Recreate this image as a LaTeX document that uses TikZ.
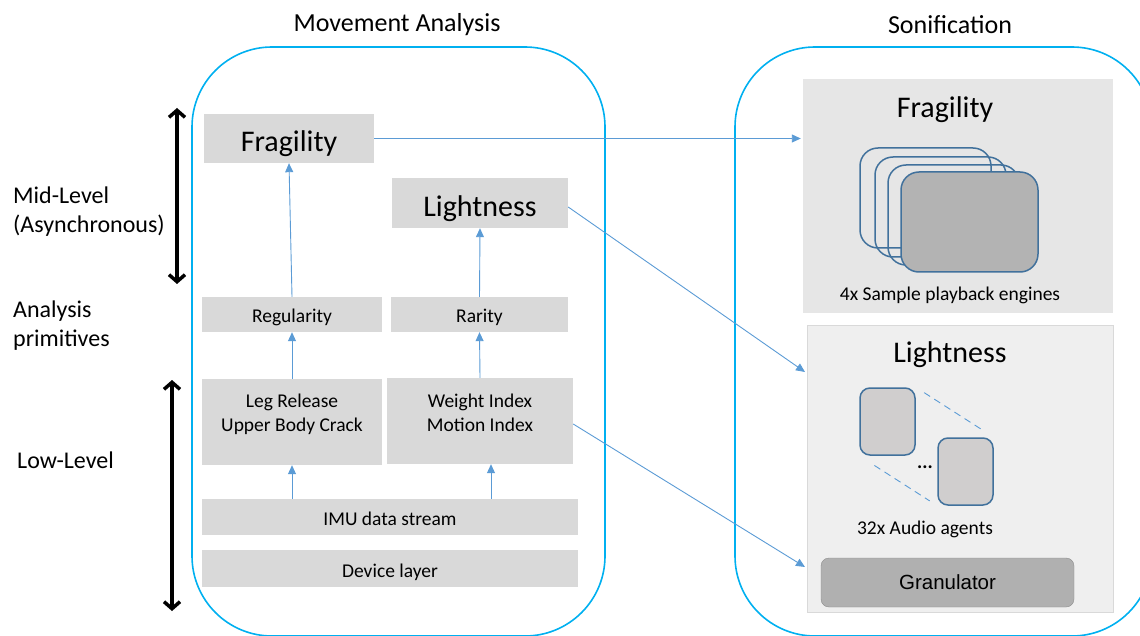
\documentclass[tikz,border=0pt]{standalone}
\usepackage{fontspec}
\setmainfont{Carlito}
\newfontfamily\arialfont{Liberation Sans}
\usetikzlibrary{arrows.meta}
\definecolor{boxgray}{HTML}{D9D9D9}
\definecolor{panelgray}{HTML}{E6E6E6}
\definecolor{lightpanel}{HTML}{EFEFEF}
\definecolor{cardgray}{HTML}{B3B3B3}
\definecolor{agentgray}{HTML}{D0CECE}
\definecolor{cardblue}{HTML}{41719C}
\definecolor{flowblue}{HTML}{5B9BD5}
\definecolor{frameblue}{HTML}{00B0F0}
\tikzstyle{block}=[fill=boxgray, inner sep=0pt, align=center, text depth=0pt]
\tikzstyle{bigblock}=[block, text height=27pt, font=\fontsize{30}{36}\selectfont]
\tikzstyle{smallblock}=[block, text height=17pt, font=\fontsize{19.5}{24}\selectfont]
\tikzstyle{plain}=[inner sep=0pt, align=center, font=\fontsize{19.5}{24}\selectfont]
\tikzstyle{sidelabel}=[anchor=west, inner sep=0pt, align=left, font=\fontsize{24}{29}\selectfont]
\tikzstyle{heading}=[inner sep=0pt, font=\fontsize{26}{30}\selectfont]
\tikzstyle{panel}=[inner sep=0pt]
\tikzstyle{frame}=[draw=frameblue, line width=1.6pt, rounded corners=80pt]
\tikzstyle{flow}=[draw=flowblue, line width=0.9pt, -{Triangle[length=9pt,width=8pt]}]
\tikzstyle{level}=[line width=3.5pt, {Straight Barb[length=7pt,width=16pt]}-{Straight Barb[length=7pt,width=16pt]}]
\tikzstyle{card}=[draw=cardblue, line width=1.5pt, rounded corners=18pt]
\tikzstyle{agent}=[draw=cardblue, fill=agentgray, line width=1.5pt, rounded corners=10pt, inner sep=0pt, minimum width=55pt, minimum height=67pt]
\tikzstyle{dashline}=[draw=flowblue, line width=0.9pt, dash pattern=on 7pt off 5pt]

\begin{document}
\begin{tikzpicture}[x=1pt, y=-1pt]
    \useasboundingbox (0,0) rectangle (1140,636);
    \clip (0,0) rectangle (1140,636);
    % containers
    \draw[frame] (192,47) rectangle (605,636);
    \draw[frame] (735,47) rectangle (1152,636);
    \node[heading] (anatitle) at (397,25) {Movement Analysis};
    \node[heading] (sontitle) at (950,25) {Sonification};
    % side labels
    \node[sidelabel] (midlabel) at (13,211.5) {Mid-Level\\(Asynchronous)};
    \node[sidelabel] (primlabel) at (13,326) {Analysis\\primitives};
    \node[sidelabel] (lowlabel) at (17,460) {Low-Level};
    \coordinate (midtop) at (177,108);
    \coordinate (midbot) at (177,284);
    \coordinate (lowtop) at (172,380);
    \coordinate (lowbot) at (172,611);
    \draw[level] (midtop) -- (midbot);
    \draw[level] (lowtop) -- (lowbot);
    % analysis blocks
    \node[bigblock, minimum width=170pt, minimum height=49pt] (fragA) at (289,138.5) {Fragility};
    \node[bigblock, minimum width=176pt, minimum height=50pt] (lightA) at (480,203) {Lightness};
    \node[smallblock, minimum width=180pt, minimum height=35pt] (regular) at (292,314.5) {Regularity};
    \node[smallblock, minimum width=177pt, minimum height=35pt] (rarity) at (479.5,314.5) {Rarity};
    \node[block, minimum width=180pt, minimum height=86pt] (leg) at (292,422) {};
    \node[plain] (legtext) at (292,414) {Leg Release\\Upper Body Crack};
    \node[block, minimum width=186pt, minimum height=86pt] (weight) at (480,421) {};
    \node[plain] (weighttext) at (480,413) {Weight Index\\Motion Index};
    \node[smallblock, minimum width=376pt, minimum height=36pt] (imu) at (390,517) {IMU data stream};
    \node[smallblock, minimum width=376pt, minimum height=37pt] (device) at (390,568.5) {Device layer};
    \draw[flow] (regular.north) -- (fragA.south);
    \draw[flow] (rarity.north) -- (lightA.south);
    \draw[flow] (leg.north) -- (regular.south);
    \draw[flow] (weight.north) -- (rarity.south);
    \draw[flow] (imu.north -| leg.south) -- (leg.south);
    \draw[flow] ([xshift=11pt]imu.north -| weight.south) -- ([xshift=11pt]weight.south);
    % sonification panels
    \node[panel, fill=panelgray, minimum width=310pt, minimum height=234pt] (fragpanel) at (958,196) {};
    \node[bigblock, fill=none] (fragB) at (945,104.5) {Fragility};
    \node[panel, fill=lightpanel, draw=boxgray, minimum width=306pt, minimum height=287pt] (lightpanel) at (960,468.5) {};
    \node[bigblock, fill=none] (lightB) at (950,348.5) {Lightness};
    \foreach \cx/\cy in {860/148, 875/157, 888/165}
        \draw[card] (\cx,\cy) rectangle ++(131,100);
    \draw[card, fill=cardgray] (901,172) rectangle ++(137,100);
    \node[plain] (enginetext) at (950,295) {4x Sample playback engines};
    \node[agent] (agentA) at (887.5,421.5) {};
    \node[agent] (agentB) at (965.5,471.5) {};
    \draw[dashline, shorten <=10pt, shorten >=15pt] (agentA.north east) -- (agentB.north east);
    \draw[dashline, shorten <=18pt, shorten >=9pt] (agentA.south west) -- (agentB.south west);
    \node[plain] (dots) at (925,467) {\textbf{...}};
    \node[plain] (agenttext) at (925,529) {32x Audio agents};
    \node[draw=black!45, fill=black!31, rounded corners=8pt, minimum width=253pt, minimum height=49pt, font=\arialfont\fontsize{20.5}{24}\selectfont] (granular) at (947.5,582.5) {Granulator};
    % mappings
    \coordinate (lighttip) at (805,372);
    \coordinate (grantip) at (805,567);
    \draw[flow, shorten >=2pt] (fragA.east) -- (fragpanel.west |- fragA.east);
    \draw[flow] ([yshift=-4pt]lightA.east) -- (lighttip);
    \draw[flow] ([yshift=-3pt]weight.east) -- (grantip);
\end{tikzpicture}
\end{document}
